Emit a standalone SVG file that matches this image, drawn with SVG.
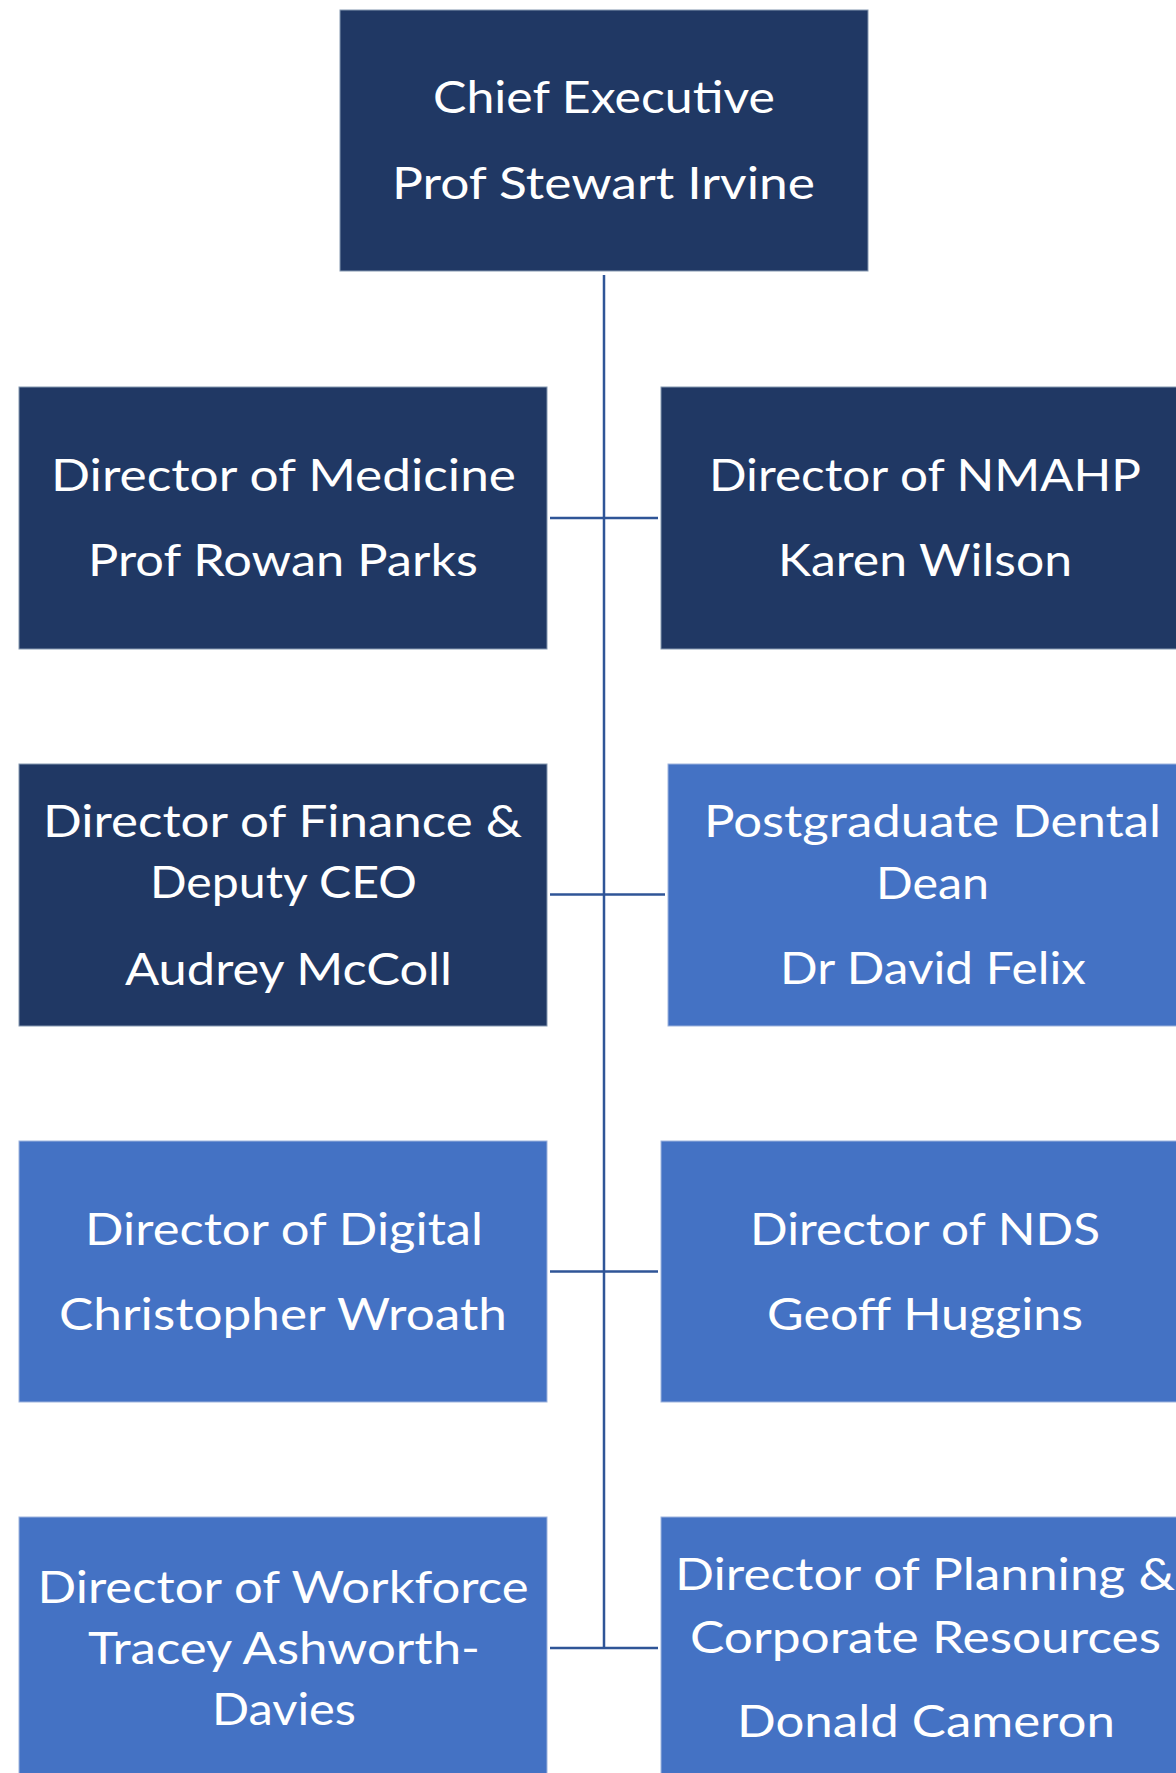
<svg xmlns="http://www.w3.org/2000/svg" width="1176" height="1773" viewBox="0 0 1176 1773">
<style>
.dark{fill:#203864;stroke:#8497B0;stroke-width:1}
.light{fill:#4472C4;stroke:#9DB3DD;stroke-width:1}
.t{font-family:Lato,"Liberation Sans",sans-serif;font-size:44px;fill:#FFFFFF;text-anchor:middle}
.c{stroke:#2F5597;stroke-width:2.5;fill:none}
</style>
<rect width="1176" height="1773" fill="#FFFFFF"/>
<g id="connectors">
<line class="c" x1="604" y1="275" x2="604" y2="1648"/>
<line class="c" x1="550" y1="518" x2="658" y2="518"/>
<line class="c" x1="550" y1="894.5" x2="665" y2="894.5"/>
<line class="c" x1="550" y1="1271.5" x2="658" y2="1271.5"/>
<line class="c" x1="550" y1="1648" x2="658" y2="1648"/>
</g>
<g id="ceo">
<rect class="dark" x="340" y="10" width="528" height="261"/>
<text class="t" x="604" y="113" textLength="342" lengthAdjust="spacingAndGlyphs">Chief Executive</text>
<text class="t" x="603.5" y="199" textLength="423" lengthAdjust="spacingAndGlyphs">Prof Stewart Irvine</text>
</g>
<g id="medicine">
<rect class="dark" x="19" y="387" width="528" height="262"/>
<text class="t" x="283.5" y="491" textLength="465" lengthAdjust="spacingAndGlyphs">Director of Medicine</text>
<text class="t" x="283" y="576" textLength="390" lengthAdjust="spacingAndGlyphs">Prof Rowan Parks</text>
</g>
<g id="nmahp">
<rect class="dark" x="661" y="387" width="528" height="262"/>
<text class="t" x="925" y="491" textLength="432" lengthAdjust="spacingAndGlyphs">Director of NMAHP</text>
<text class="t" x="925" y="576" textLength="294" lengthAdjust="spacingAndGlyphs">Karen Wilson</text>
</g>
<g id="finance">
<rect class="dark" x="19" y="764" width="528" height="262"/>
<text class="t" x="282.5" y="837" textLength="479" lengthAdjust="spacingAndGlyphs">Director of Finance &amp;</text>
<text class="t" x="283.5" y="898" textLength="267" lengthAdjust="spacingAndGlyphs">Deputy CEO</text>
<text class="t" x="288.5" y="985" textLength="327" lengthAdjust="spacingAndGlyphs">Audrey McColl</text>
</g>
<g id="dental">
<rect class="light" x="668" y="764" width="528" height="262"/>
<text class="t" x="932.5" y="837" textLength="457" lengthAdjust="spacingAndGlyphs">Postgraduate Dental</text>
<text class="t" x="932.5" y="899" textLength="113" lengthAdjust="spacingAndGlyphs">Dean</text>
<text class="t" x="933" y="984" textLength="306" lengthAdjust="spacingAndGlyphs">Dr David Felix</text>
</g>
<g id="digital">
<rect class="light" x="19" y="1141" width="528" height="261"/>
<text class="t" x="284" y="1245" textLength="398" lengthAdjust="spacingAndGlyphs">Director of Digital</text>
<text class="t" x="283" y="1330" textLength="448" lengthAdjust="spacingAndGlyphs">Christopher Wroath</text>
</g>
<g id="nds">
<rect class="light" x="661" y="1141" width="528" height="261"/>
<text class="t" x="925" y="1245" textLength="350" lengthAdjust="spacingAndGlyphs">Director of NDS</text>
<text class="t" x="925" y="1330" textLength="316" lengthAdjust="spacingAndGlyphs">Geoff Huggins</text>
</g>
<g id="workforce">
<rect class="light" x="19" y="1517" width="528" height="270"/>
<text class="t" x="283" y="1603" textLength="491" lengthAdjust="spacingAndGlyphs">Director of Workforce</text>
<text class="t" x="284" y="1664" textLength="392" lengthAdjust="spacingAndGlyphs">Tracey Ashworth-</text>
<text class="t" x="284" y="1725" textLength="144" lengthAdjust="spacingAndGlyphs">Davies</text>
</g>
<g id="planning">
<rect class="light" x="661" y="1517" width="528" height="270"/>
<text class="t" x="925" y="1590" textLength="500" lengthAdjust="spacingAndGlyphs">Director of Planning &amp;</text>
<text class="t" x="925.5" y="1653" textLength="471" lengthAdjust="spacingAndGlyphs">Corporate Resources</text>
<text class="t" x="926" y="1737" textLength="378" lengthAdjust="spacingAndGlyphs">Donald Cameron</text>
</g>
</svg>
